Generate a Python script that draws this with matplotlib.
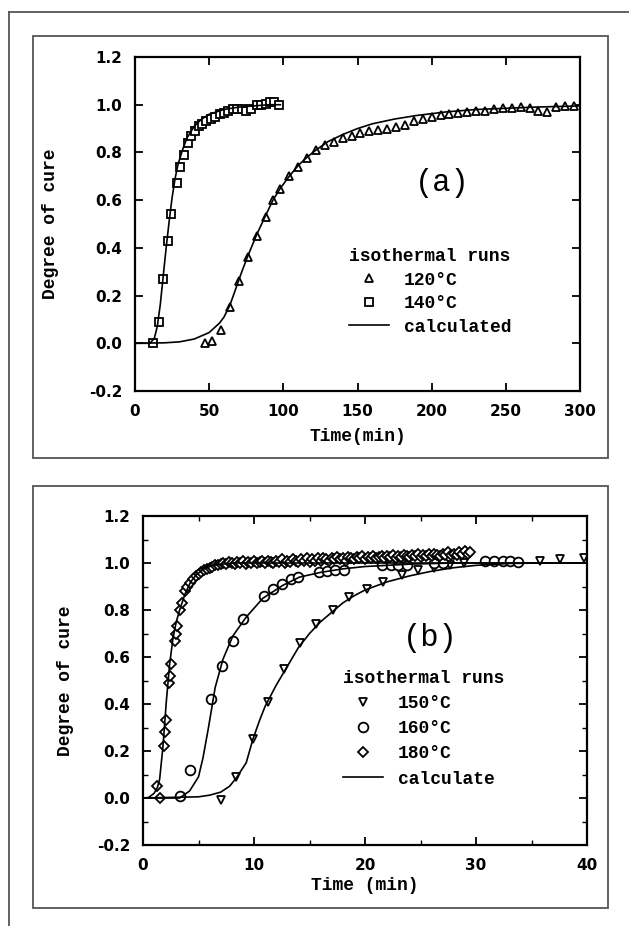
import numpy as np
import matplotlib
matplotlib.use("Agg")
import matplotlib.pyplot as plt
from matplotlib.patches import Rectangle
from matplotlib.lines import Line2D

# ---- panel (a) data ----
t_140 = [12, 16.5, 19, 22.5, 24.5, 28, 30, 33, 35.5, 38, 40.5, 43, 45.5, 48, 51, 54, 57, 60,
         63, 66, 69, 72, 75, 78, 82, 85, 88, 91, 94, 97]
a_140 = [0.0, 0.09, 0.27, 0.43, 0.54, 0.67, 0.74, 0.79, 0.84, 0.87, 0.89, 0.91, 0.92, 0.93,
         0.94, 0.95, 0.96, 0.965, 0.975, 0.98, 0.98, 0.98, 0.975, 0.98, 1.0, 1.0, 1.005,
         1.01, 1.01, 1.0]
t_120 = [47, 52, 58, 64, 70, 76, 82, 88, 93, 98, 104, 110, 116, 122, 128, 134, 140, 146,
         152, 158, 164, 170, 176, 182, 188, 194, 200, 206, 212, 218, 224, 230, 236, 242,
         248, 254, 260, 266, 272, 278, 284, 290, 296]
a_120 = [0.0, 0.01, 0.055, 0.15, 0.26, 0.36, 0.45, 0.53, 0.60, 0.645, 0.70, 0.74, 0.775,
         0.81, 0.83, 0.845, 0.86, 0.87, 0.88, 0.89, 0.895, 0.90, 0.905, 0.915, 0.93, 0.94,
         0.95, 0.955, 0.96, 0.965, 0.97, 0.975, 0.975, 0.98, 0.985, 0.985, 0.99, 0.985,
         0.975, 0.97, 0.99, 0.995, 0.995]
tc_140 = [0, 10, 13, 15, 17, 19, 21, 23, 25, 27, 29, 32, 35, 40, 45, 50, 60, 70, 80, 90, 98]
c_140 = [0.0, 0.0, 0.02, 0.07, 0.16, 0.28, 0.40, 0.51, 0.61, 0.69, 0.75, 0.81, 0.86, 0.91,
         0.94, 0.96, 0.98, 0.99, 0.995, 1.0, 1.0]
tc_120 = [0, 20, 30, 40, 50, 57, 60, 64, 68, 72, 76, 82, 88, 93, 98, 104, 110, 116, 122,
          130, 140, 150, 160, 175, 190, 210, 230, 250, 270, 300]
c_120 = [0.0, 0.002, 0.006, 0.018, 0.045, 0.085, 0.11, 0.16, 0.23, 0.30, 0.365, 0.455,
         0.535, 0.60, 0.65, 0.70, 0.745, 0.78, 0.81, 0.845, 0.875, 0.90, 0.92, 0.94, 0.955,
         0.97, 0.98, 0.985, 0.99, 0.995]

# ---- panel (b) data ----
t_150 = [7.0, 8.4, 9.9, 11.3, 12.7, 14.1, 15.6, 17.1, 18.6, 20.2, 21.6, 23.3, 24.8, 26.2,
         27.7, 28.9, 35.8, 37.6, 39.7]
b_150 = [-0.01, 0.09, 0.25, 0.41, 0.55, 0.66, 0.74, 0.80, 0.855, 0.89, 0.92, 0.95, 0.97,
         0.98, 0.99, 1.0, 1.01, 1.015, 1.02]
t_160 = [3.3, 4.2, 6.1, 7.1, 8.1, 9.0, 10.9, 11.7, 12.5, 13.3, 14.0, 15.9, 16.6, 17.3,
         18.1, 21.5, 22.3, 23.0, 23.8, 26.2, 27.0, 30.8, 31.6, 32.4, 33.1, 33.8]
b_160 = [0.01, 0.12, 0.42, 0.56, 0.67, 0.76, 0.86, 0.89, 0.91, 0.93, 0.94, 0.96, 0.965,
         0.97, 0.97, 0.99, 0.99, 0.99, 0.99, 1.0, 1.0, 1.01, 1.01, 1.01, 1.01, 1.005]
t_180 = [1.3, 1.5, 1.9, 2.0, 2.05, 2.35, 2.45, 2.5, 2.9, 3.0, 3.1, 3.3, 3.5, 3.8,
         4.0, 4.25, 4.5, 4.75, 5.0, 5.25, 5.5, 5.75, 6.0, 6.25, 6.5, 6.75, 7.0,
         7.25, 7.5, 7.75, 8.0, 8.25, 8.5, 8.75, 9.0, 9.25, 9.5,
         9.75, 10.0, 10.25, 10.5, 10.75, 11.0, 11.25, 11.5, 11.75, 12.0,
         12.25, 12.5, 12.75, 13.0, 13.25, 13.5, 13.75, 14.0, 14.25, 14.5,
         14.75, 15.0, 15.25, 15.5, 15.75, 16.0, 16.25, 16.5, 16.75, 17.0,
         17.25, 17.5, 17.75, 18.0, 18.25, 18.5, 18.75, 19.0, 19.25, 19.5,
         19.75, 20.0, 20.25, 20.5, 20.75, 21.0, 21.25, 21.5, 21.75, 22.0,
         22.25, 22.5, 22.75, 23.0, 23.25, 23.5, 23.75, 24.0, 24.25, 24.5,
         24.75, 25.0, 25.25, 25.5, 25.75, 26.0, 26.25, 26.5, 26.75, 27.0,
         27.25, 27.5, 27.75, 28.0, 28.25, 28.5, 28.75, 29.0, 29.25, 29.5]
b_180 = [0.05, 0.0, 0.22, 0.28, 0.33, 0.49, 0.52, 0.57, 0.67, 0.70, 0.73, 0.80, 0.83, 0.88,
         0.90, 0.915, 0.93, 0.945, 0.955, 0.96, 0.97, 0.975, 0.98, 0.985, 0.99, 0.99, 0.995,
         1.0, 0.995, 1.005, 1.0, 0.995, 1.005, 1.0, 1.01, 0.995, 1.005,
         1.0, 1.01, 1.0, 1.005, 1.01, 1.0, 1.01, 1.005, 1.0, 1.01,
         1.005, 1.015, 1.0, 1.01, 1.005, 1.015, 1.01, 1.005, 1.015, 1.01,
         1.02, 1.005, 1.015, 1.01, 1.02, 1.01, 1.02, 1.015, 1.01, 1.02,
         1.015, 1.025, 1.015, 1.02, 1.01, 1.025, 1.02, 1.015, 1.025, 1.02,
         1.03, 1.015, 1.025, 1.02, 1.03, 1.02, 1.025, 1.03, 1.02, 1.03,
         1.025, 1.035, 1.02, 1.03, 1.025, 1.035, 1.03, 1.025, 1.035, 1.03,
         1.04, 1.025, 1.035, 1.03, 1.04, 1.03, 1.04, 1.035, 1.03, 1.04,
         1.035, 1.045, 1.035, 1.04, 1.035, 1.045, 1.04, 1.05, 1.04, 1.045]
tc_180 = [0, 0.5, 1.0, 1.3, 1.5, 1.8, 2.1, 2.4, 2.7, 3.0, 3.3, 3.8, 4.3, 4.8, 5.5, 6.3, 8, 40]
c_180 = [0.0, 0.002, 0.02, 0.045, 0.08, 0.22, 0.41, 0.57, 0.68, 0.75, 0.80, 0.87, 0.92,
         0.95, 0.975, 0.99, 1.0, 1.0]
tc_160 = [0, 3.3, 4.2, 5.0, 5.4, 5.9, 6.5, 7.2, 8.1, 9.3, 10.8, 12.6, 14.1, 16, 18, 20, 24,
          28, 40]
c_160 = [0.0, 0.0, 0.03, 0.09, 0.17, 0.30, 0.47, 0.59, 0.69, 0.77, 0.85, 0.905, 0.94, 0.96,
         0.975, 0.985, 0.995, 1.0, 1.0]
tc_150 = [0, 5, 6, 7, 7.8, 8.4, 9.3, 9.9, 10.5, 11, 12, 13, 14, 15, 16, 17, 18, 19, 20, 22,
          24, 26, 28, 30, 33, 36, 40]
c_150 = [0.0, 0.005, 0.012, 0.025, 0.05, 0.085, 0.15, 0.25, 0.33, 0.39, 0.48, 0.56, 0.64,
         0.70, 0.75, 0.79, 0.83, 0.86, 0.885, 0.92, 0.945, 0.965, 0.98, 0.99, 0.998, 1.0, 1.0]

W, H = 629, 926
mono = "Liberation Mono"
mk = dict(linestyle="none", mfc="white", mec="black", mew=1.3)

fig = plt.figure(figsize=(W / 100, H / 100), dpi=100)

# page frame and panel boxes
fig.add_artist(Line2D([9 / W, 9 / W], [1 - 12 / H, 0], transform=fig.transFigure,
                      color="#555555", lw=1.3))
fig.add_artist(Line2D([9 / W, 1], [1 - 12 / H, 1 - 12 / H], transform=fig.transFigure,
                      color="#555555", lw=1.3))
for top, bot in [(36, 458), (486, 908)]:
    fig.add_artist(Rectangle((33 / W, 1 - bot / H), 575 / W, (bot - top) / H,
                             transform=fig.transFigure, fill=False, ec="#555555", lw=1.3))


def style(ax, xmax, xstep, ypad, xminor=None):
    ax.set_xlim(0, xmax)
    ax.set_ylim(-0.2, 1.2)
    ax.set_xticks(np.arange(0, xmax + 1, xstep))
    ax.set_yticks([-0.2, 0.0, 0.2, 0.4, 0.6, 0.8, 1.0, 1.2])
    ax.yaxis.set_major_formatter(matplotlib.ticker.FormatStrFormatter("%.1f"))
    if xminor:
        ax.set_xticks(np.arange(0, xmax + 1, xminor), minor=True)
        ax.set_yticks(np.arange(-0.2, 1.21, 0.1), minor=True)
    for s in ax.spines.values():
        s.set_linewidth(1.6)
    ax.tick_params(direction="in", top=True, right=True, length=6, width=1.3,
                   labelsize=11, pad=9)
    ax.tick_params(which="minor", direction="in", top=True, right=True, length=3.5,
                   width=1.0)
    for lab in ax.get_xticklabels() + ax.get_yticklabels():
        lab.set_fontweight("bold")
    ax.set_ylabel("Degree of cure", fontfamily=mono, fontweight="bold", fontsize=13,
                  labelpad=ypad)


def legend(ax, handles, anchor, spacing):
    ax.legend(handles=handles, title="isothermal runs", loc="upper left",
              bbox_to_anchor=anchor, frameon=False, borderpad=0, numpoints=1,
              handlelength=2.2, handletextpad=0.85, labelspacing=spacing, alignment="left",
              prop=dict(family=mono, weight="bold", size=13),
              title_fontproperties=dict(family=mono, weight="bold", size=13))


# ---- panel (a) ----
ax1 = fig.add_axes([135 / W, 1 - 391 / H, 445 / W, 334 / H])
style(ax1, 300, 50, ypad=22)
h1, = ax1.plot(t_120, a_120, marker="^", ms=6, label="120\u00b0C", **mk)
h2, = ax1.plot(t_140, a_140, marker="s", ms=5.5, label="140\u00b0C", **mk)
h3, = ax1.plot(tc_140, c_140, color="black", lw=1.2, label="calculated")
ax1.plot(tc_120, c_120, color="black", lw=1.2)
ax1.set_xlabel("Time(min)", fontfamily=mono, fontweight="bold", fontsize=13, labelpad=6.5)
ax1.text(0.69, 0.623, "(a)", transform=ax1.transAxes, fontfamily=mono, fontsize=22,
         ha="center", va="center")
legend(ax1, [h1, h2, h3], (0.461, 0.455), 0.36)

# ---- panel (b) ----
ax2 = fig.add_axes([143 / W, 1 - 845 / H, 444 / W, 329 / H])
style(ax2, 40, 10, ypad=17, xminor=5)
g1, = ax2.plot(t_150, b_150, marker="v", ms=6, label="150\u00b0C", **mk)
g2, = ax2.plot(t_160, b_160, marker="o", ms=7, label="160\u00b0C", **mk)
g3, = ax2.plot(t_180, b_180, marker="D", ms=5, label="180\u00b0C", **mk)
g4, = ax2.plot(tc_180, c_180, color="black", lw=1.2, label="calculate")
ax2.plot(tc_160, c_160, color="black", lw=1.2)
ax2.plot(tc_150, c_150, color="black", lw=1.2)
ax2.set_xlabel("Time (min)", fontfamily=mono, fontweight="bold", fontsize=13, labelpad=3)
ax2.text(0.646, 0.629, "(b)", transform=ax2.transAxes, fontfamily=mono, fontsize=22,
         ha="center", va="center")
legend(ax2, [g1, g2, g3, g4], (0.43, 0.559), 0.45)

fig.savefig("out.png", dpi=100)
